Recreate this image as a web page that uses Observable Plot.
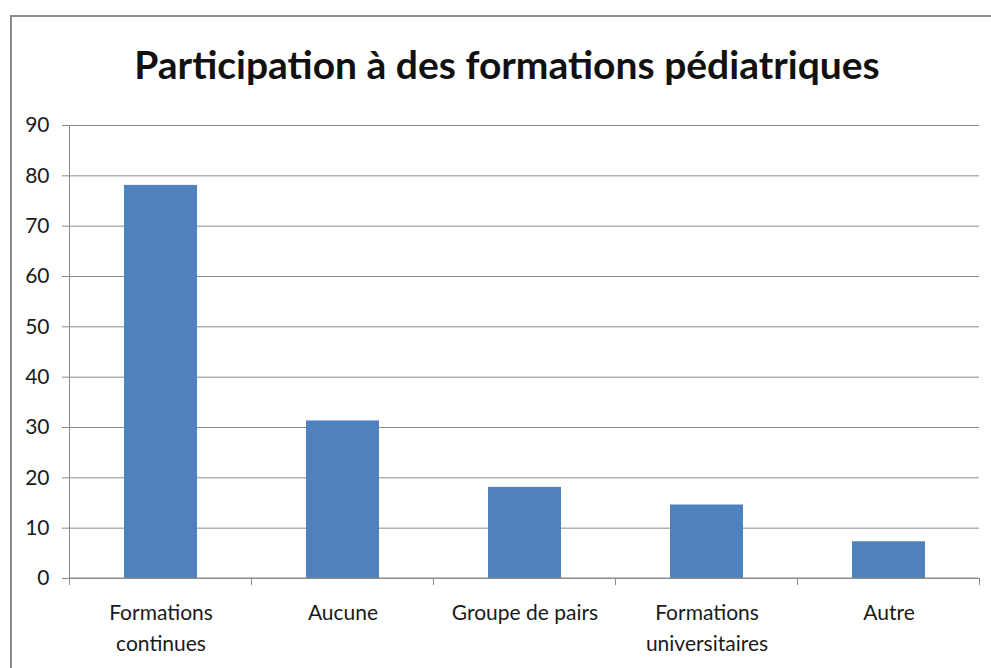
<!DOCTYPE html>
<html>
<head>
<meta charset="utf-8">
<script src="https://cdn.jsdelivr.net/npm/d3@7"></script>
<script src="https://cdn.jsdelivr.net/npm/@observablehq/plot@0.6"></script>
<style>
  html, body { margin: 0; padding: 0; background: #fff; }
  body { width: 991px; height: 668px; position: relative; overflow: hidden; font-family: Lato, "Open Sans", sans-serif; }
  #frame { position: absolute; left: 10px; top: 15px; width: 1100px; height: 800px; border: 2px solid #8c8c8c; box-sizing: border-box; }
  #title { position: absolute; left: 507px; top: 41px; transform: translateX(-50%); white-space: nowrap;
           font-family: Lato, sans-serif; font-weight: bold; font-size: 39px; line-height: 1.2; color: #111; }
  #chart { position: absolute; left: 0; top: 0; }
</style>
</head>
<body>
<div id="frame"></div>
<div id="title">Participation à des formations pédiatriques</div>
<div id="chart"></div>
<script>
const categories = ["Formations\ncontinues", "Aucune", "Groupe de pairs", "Formations\nuniversitaires", "Autre"];
const values = [78.1, 31.3, 18.1, 14.6, 7.3];
const yTicks = [0, 10, 20, 30, 40, 50, 60, 70, 80, 90];

const data = categories.map((c, i) => ({category: c, value: values[i]}));
const gray = "#8a8a8a";

// boundary ticks between categories, computed from the band scale
const boundaryTicks = (index, scales, values, dimensions) => {
  const x = scales.x;
  const step = x(categories[1]) - x(categories[0]);
  const bw = x.bandwidth ? x.bandwidth() : step * 0.4;
  const y0 = dimensions.height - dimensions.marginBottom;
  const g = d3.create("svg:g");
  const edges = categories.map(c => x(c) + bw / 2 - step / 2);
  edges.push(x(categories[categories.length - 1]) + bw / 2 + step / 2);
  for (const e of edges) {
    g.append("line").attr("x1", e).attr("x2", e).attr("y1", y0).attr("y2", y0 + 7)
      .attr("stroke", gray).attr("stroke-width", 1);
  }
  g.append("line").attr("x1", dimensions.marginLeft).attr("x2", dimensions.width - dimensions.marginRight)
    .attr("y1", y0).attr("y2", y0).attr("stroke", gray).attr("stroke-width", 1);
  return g.node();
};

const chart = Plot.plot({
  width: 991,
  height: 668,
  marginLeft: 69,
  marginRight: 12,
  marginTop: 125,
  marginBottom: 90,
  style: {fontFamily: "Lato, sans-serif", fontSize: "21px", color: "#1a1a1a", background: "transparent"},
  x: {domain: categories, paddingInner: 0.6, paddingOuter: 0.3, label: null},
  y: {domain: [0, 90], label: null},
  marks: [
    Plot.gridY(yTicks, {stroke: gray, strokeOpacity: 1, strokeWidth: 1}),
    Plot.frame({anchor: "left", stroke: gray, strokeWidth: 1}),
    Plot.barY(data, {x: "category", y: "value", fill: "#4F81BD"}),
    boundaryTicks,
    Plot.axisY(yTicks, {tickSize: 7, tickPadding: 13, stroke: gray, fontSize: 21, label: null, fill: "#1a1a1a"}),
    Plot.axisX({tickSize: 0, tickPadding: 20, lineHeight: 1.45, fontSize: 21, label: null, fill: "#1a1a1a"})
  ]
});
document.getElementById("chart").appendChild(chart);
</script>
</body>
</html>
